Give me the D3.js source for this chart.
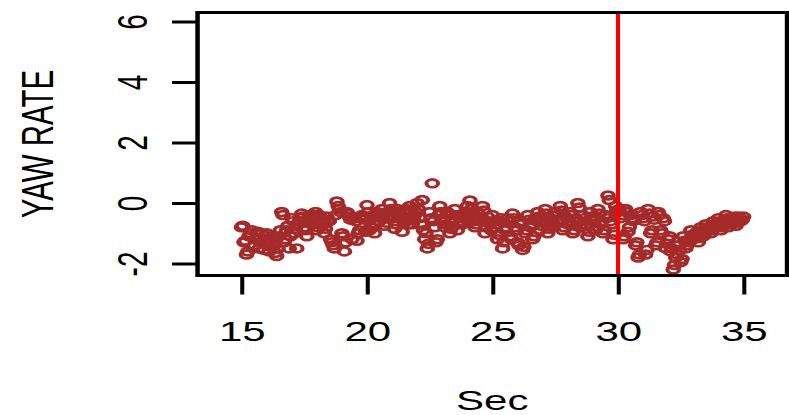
<!DOCTYPE html>
<html>
<head>
<meta charset="utf-8">
<script src="https://cdn.jsdelivr.net/npm/d3@7/dist/d3.min.js"></script>
<style>
body { margin: 0; background: #fff; }
text { font-family: "Liberation Sans", Arial, sans-serif; fill: #000; }
</style>
</head>
<body>
<div id="chart"></div>
<script>
var xTicks = [15, 20, 25, 30, 35];
var yTicks = [-2, 0, 2, 4, 6];
var markTime = 30;

// sample times (sec)
var secs = [
    15.00, 15.05, 15.10, 15.15, 15.20, 15.25, 15.30, 15.35, 15.40, 15.45,
    15.50, 15.55, 15.60, 15.65, 15.70, 15.75, 15.80, 15.85, 15.90, 15.95,
    16.00, 16.05, 16.10, 16.15, 16.20, 16.25, 16.30, 16.35, 16.40, 16.45,
    16.50, 16.55, 16.60, 16.65, 16.70, 16.75, 16.80, 16.85, 16.90, 16.95,
    17.00, 17.05, 17.10, 17.15, 17.20, 17.25, 17.30, 17.35, 17.40, 17.45,
    17.50, 17.55, 17.60, 17.65, 17.70, 17.75, 17.80, 17.85, 17.90, 17.95,
    18.00, 18.05, 18.10, 18.15, 18.20, 18.25, 18.30, 18.35, 18.40, 18.45,
    18.50, 18.55, 18.60, 18.65, 18.70, 18.75, 18.80, 18.85, 18.90, 18.95,
    19.00, 19.05, 19.10, 19.15, 19.20, 19.25, 19.30, 19.35, 19.40, 19.45,
    19.50, 19.55, 19.60, 19.65, 19.70, 19.75, 19.80, 19.85, 19.90, 19.95,
    20.00, 20.05, 20.10, 20.15, 20.20, 20.25, 20.30, 20.35, 20.40, 20.45,
    20.50, 20.55, 20.60, 20.65, 20.70, 20.75, 20.80, 20.85, 20.90, 20.95,
    21.00, 21.05, 21.10, 21.15, 21.20, 21.25, 21.30, 21.35, 21.40, 21.45,
    21.50, 21.55, 21.60, 21.65, 21.70, 21.75, 21.80, 21.85, 21.90, 21.95,
    22.00, 22.05, 22.10, 22.15, 22.20, 22.25, 22.30, 22.35, 22.40, 22.45,
    22.50, 22.55, 22.60, 22.65, 22.70, 22.75, 22.80, 22.85, 22.90, 22.95,
    23.00, 23.05, 23.10, 23.15, 23.20, 23.25, 23.30, 23.35, 23.40, 23.45,
    23.50, 23.55, 23.60, 23.65, 23.70, 23.75, 23.80, 23.85, 23.90, 23.95,
    24.00, 24.05, 24.10, 24.15, 24.20, 24.25, 24.30, 24.35, 24.40, 24.45,
    24.50, 24.55, 24.60, 24.65, 24.70, 24.75, 24.80, 24.85, 24.90, 24.95,
    25.00, 25.05, 25.10, 25.15, 25.20, 25.25, 25.30, 25.35, 25.40, 25.45,
    25.50, 25.55, 25.60, 25.65, 25.70, 25.75, 25.80, 25.85, 25.90, 25.95,
    26.00, 26.05, 26.10, 26.15, 26.20, 26.25, 26.30, 26.35, 26.40, 26.45,
    26.50, 26.55, 26.60, 26.65, 26.70, 26.75, 26.80, 26.85, 26.90, 26.95,
    27.00, 27.05, 27.10, 27.15, 27.20, 27.25, 27.30, 27.35, 27.40, 27.45,
    27.50, 27.55, 27.60, 27.65, 27.70, 27.75, 27.80, 27.85, 27.90, 27.95,
    28.00, 28.05, 28.10, 28.15, 28.20, 28.25, 28.30, 28.35, 28.40, 28.45,
    28.50, 28.55, 28.60, 28.65, 28.70, 28.75, 28.80, 28.85, 28.90, 28.95,
    29.00, 29.05, 29.10, 29.15, 29.20, 29.25, 29.30, 29.35, 29.40, 29.45,
    29.50, 29.55, 29.60, 29.65, 29.70, 29.75, 29.80, 29.85, 29.90, 29.95,
    30.00, 30.05, 30.10, 30.15, 30.20, 30.25, 30.30, 30.35, 30.40, 30.45,
    30.50, 30.55, 30.60, 30.65, 30.70, 30.75, 30.80, 30.85, 30.90, 30.95,
    31.00, 31.05, 31.10, 31.15, 31.20, 31.25, 31.30, 31.35, 31.40, 31.45,
    31.50, 31.55, 31.60, 31.65, 31.70, 31.75, 31.80, 31.85, 31.90, 31.95,
    32.00, 32.05, 32.10, 32.15, 32.20, 32.25, 32.30, 32.35, 32.40, 32.45,
    32.50, 32.55, 32.60, 32.65, 32.70, 32.75, 32.80, 32.85, 32.90, 32.95,
    33.00, 33.05, 33.10, 33.15, 33.20, 33.25, 33.30, 33.35, 33.40, 33.45,
    33.50, 33.55, 33.60, 33.65, 33.70, 33.75, 33.80, 33.85, 33.90, 33.95,
    34.00, 34.05, 34.10, 34.15, 34.20, 34.25, 34.30, 34.35, 34.40, 34.45,
    34.50, 34.55, 34.60, 34.65, 34.70, 34.75, 34.80, 34.85, 34.90, 34.95,
    35.00
];

// yaw rate
var yawRate = [
    -0.8, -0.75, -1.3, -1.25, -1.7, -1.6, -1.1, -1.0, -0.9, -1.45,
    -1.4, -1.2, -1.15, -0.95, -1.5, -1.3, -1.0, -1.35, -1.55, -1.2,
    -1.0, -1.3, -1.6, -1.45, -1.2, -1.1, -1.4, -1.65, -1.75, -1.5,
    -1.1, -0.9, -0.3, -0.4, -1.3, -1.2, -0.9, -0.75, -1.5, -1.1,
    -0.5, -0.6, -1.0, -0.85, -1.5, -0.7, -0.6, -0.5, -0.35, -0.45,
    -0.8, -0.9, -1.1, -0.65, -0.5, -0.4, -0.7, -0.55, -0.4, -0.3,
    -0.9, -0.8, -0.4, -0.5, -0.75, -0.6, -1.0, -0.85, -0.45, -0.55,
    -0.6, -1.2, -1.3, -1.4, -1.5, -0.4, 0.05, -0.1, -0.2, -0.3,
    -1.0, -1.1, -1.6, -1.3, -0.3, -0.35, -0.45, -0.55, -1.2, -0.5,
    -0.5, -0.6, -1.25, -1.0, -0.9, -0.45, -0.4, -0.5, -0.55, -0.95,
    -0.07, -0.3, -0.9, -0.8, -0.5, -0.4, -1.0, -0.7, -0.3, -0.4,
    -0.6, -0.5, -0.2, -0.35, -0.75, -0.65, -0.45, -0.3, 0.0, -0.2,
    -0.4, -0.5, -0.85, -0.7, -0.2, -0.3, -0.5, -0.4, -0.95, -0.6,
    -0.3, -0.2, -0.6, -0.7, -0.1, -0.25, -0.7, -0.55, -0.4, -0.3,
    0.0, -0.2, -0.5, -0.7, 0.1, -0.9, -1.2, -1.0, -1.5, -1.35,
    -0.3, -0.5, 0.65, -0.6, -0.8, -1.3, -1.2, -0.4, -0.1, -0.3,
    -0.5, -0.6, -0.8, -0.7, -0.3, -0.4, -1.0, -0.85, -0.6, -0.5,
    -0.2, -0.4, -0.9, -0.7, -0.5, -0.6, -0.7, -0.45, -0.35, -0.55,
    -0.1, -0.3, 0.08, -0.2, -0.5, -0.6, -0.8, -0.7, -0.3, -0.45,
    -0.6, -0.5, -0.1, -0.25, -1.0, -0.8, -0.45, -0.6, -0.7, -0.9,
    -0.4, -0.6, -0.8, -0.7, -1.2, -1.05, -0.6, -0.5, -1.5, -1.3,
    -0.9, -0.8, -0.5, -0.6, -1.1, -1.2, -0.35, -0.5, -0.8, -0.9,
    -1.3, -1.4, -0.6, -0.7, -1.55, -1.45, -1.0, -0.9, -0.4, -0.55,
    -0.8, -0.7, -1.2, -1.1, -0.5, -0.6, -0.3, -0.45, -0.9, -0.75,
    -0.6, -0.5, -0.2, -0.35, -1.0, -0.85, -0.5, -0.6, -0.8, -0.7,
    -0.3, -0.4, -0.65, -0.55, -0.1, -0.25, -0.9, -0.8, -0.45, -0.5,
    -0.7, -0.6, -0.3, -0.4, -1.0, -0.9, -0.5, -0.6, 0.0, -0.15,
    -0.8, -0.7, -0.4, -0.5, -0.6, -0.75, -1.1, -0.95, -0.3, -0.45,
    -0.5, -0.6, -0.9, -0.8, -0.2, -0.35, -0.7, -0.6, -1.0, -0.9,
    -0.4, -0.5, 0.25, 0.1, -0.6, -0.7, -1.2, -1.05, -0.1, -0.25,
    -0.3, -0.2, -0.5, -0.4, -1.2, -1.1, -0.2, -0.3, -0.95, -0.8,
    -0.4, -0.5, -0.6, -0.55, -1.4, -1.3, -1.8, -1.7, -0.3, -0.4,
    -0.5, -0.6, -1.7, -1.55, -0.2, -0.35, -1.0, -0.9, -0.45, -0.55,
    -1.4, -1.3, -0.3, -0.4, -0.9, -1.0, -0.5, -0.6, -1.5, -1.35,
    -1.2, -1.1, -1.6, -1.5, -2.2, -2.05, -1.8, -1.7, -1.4, -1.55,
    -1.95, -1.85, -1.1, -1.25, -1.5, -1.4, -1.3, -1.2, -0.9, -1.05,
    -1.2, -1.1, -1.0, -0.95, -1.3, -1.15, -0.8, -0.9, -1.1, -1.0,
    -0.7, -0.8, -0.9, -0.85, -1.0, -0.9, -0.6, -0.7, -0.8, -0.75,
    -0.5, -0.6, -0.9, -0.8, -0.7, -0.6, -0.4, -0.5, -0.8, -0.7,
    -0.6, -0.5, -0.5, -0.45, -0.75, -0.65, -0.45, -0.5, -0.6, -0.55,
    -0.45
];

var W = 789, H = 415, stretch = 1.5;
var box = {left: 131.7, right: 524.7, top: 12.5, bottom: 275.5};

var svg = d3.select("#chart").append("svg")
    .attr("width", W).attr("height", H);
svg.append("rect").attr("width", W).attr("height", H).attr("fill", "#fff");

// the whole plot is drawn narrow and stretched sideways, like the picture
var g = svg.append("g").attr("transform", "scale(" + stretch + ",1)");

var xScale = d3.scaleLinear().domain([15, 35]).range([161, 495.7]);
var yScale = d3.scaleLinear().domain([-2, 6]).range([263.5, 21.5]);

g.append("clipPath").attr("id", "clip")
    .append("rect")
    .attr("x", box.left).attr("y", box.top)
    .attr("width", box.right - box.left).attr("height", box.bottom - box.top);

var pts = secs.map(function(s, i) { return {t: s, v: yawRate[i]}; });

g.append("g").attr("clip-path", "url(#clip)")
    .selectAll("circle")
    .data(pts)
    .enter().append("circle")
    .attr("cx", function(d) { return xScale(d.t); })
    .attr("cy", function(d) { return yScale(d.v); })
    .attr("r", 3.9)
    .attr("fill", "none")
    .attr("stroke", "#a52a2a")
    .attr("stroke-width", 2.7);

g.append("line")
    .attr("x1", xScale(markTime)).attr("x2", xScale(markTime))
    .attr("y1", box.top).attr("y2", box.bottom)
    .attr("stroke", "#ff0000")
    .attr("stroke-width", 2.7);

g.append("rect")
    .attr("x", box.left).attr("y", box.top)
    .attr("width", box.right - box.left).attr("height", box.bottom - box.top)
    .attr("fill", "none").attr("stroke", "#000").attr("stroke-width", 3);

var plain = function(d) { return String(d); };

var xAxis = g.append("g")
    .attr("transform", "translate(0," + box.bottom + ")")
    .call(d3.axisBottom(xScale).tickValues(xTicks).tickFormat(plain)
        .tickSize(19).tickPadding(27));
xAxis.select(".domain").remove();
xAxis.selectAll("line").attr("stroke-width", 2.7);
xAxis.selectAll("text")
    .style("font-family", "'Liberation Sans', Arial, sans-serif")
    .style("font-size", "28px")
    .attr("fill", "#000");

var yAxis = g.append("g")
    .attr("transform", "translate(" + box.left + ",0)")
    .call(d3.axisLeft(yScale).tickValues(yTicks).tickFormat(plain).tickSize(17));
yAxis.select(".domain").remove();
yAxis.selectAll("line").attr("stroke-width", 3);
yAxis.selectAll("text")
    .attr("x", null).attr("dy", null)
    .attr("text-anchor", "middle")
    .attr("transform", "translate(" + (98 - box.left) + ",0) rotate(-90)")
    .style("font-family", "'Liberation Sans', Arial, sans-serif")
    .style("font-size", "28px")
    .attr("fill", "#000");

g.append("text")
    .attr("x", (box.left + box.right) / 2).attr("y", 410)
    .attr("text-anchor", "middle")
    .style("font-size", "28px")
    .text("Sec");

g.append("text")
    .attr("transform", "translate(35.3," + ((box.top + box.bottom) / 2) + ") rotate(-90)")
    .attr("text-anchor", "middle")
    .style("font-size", "29.5px")
    .text("YAW RATE");
</script>
</body>
</html>
